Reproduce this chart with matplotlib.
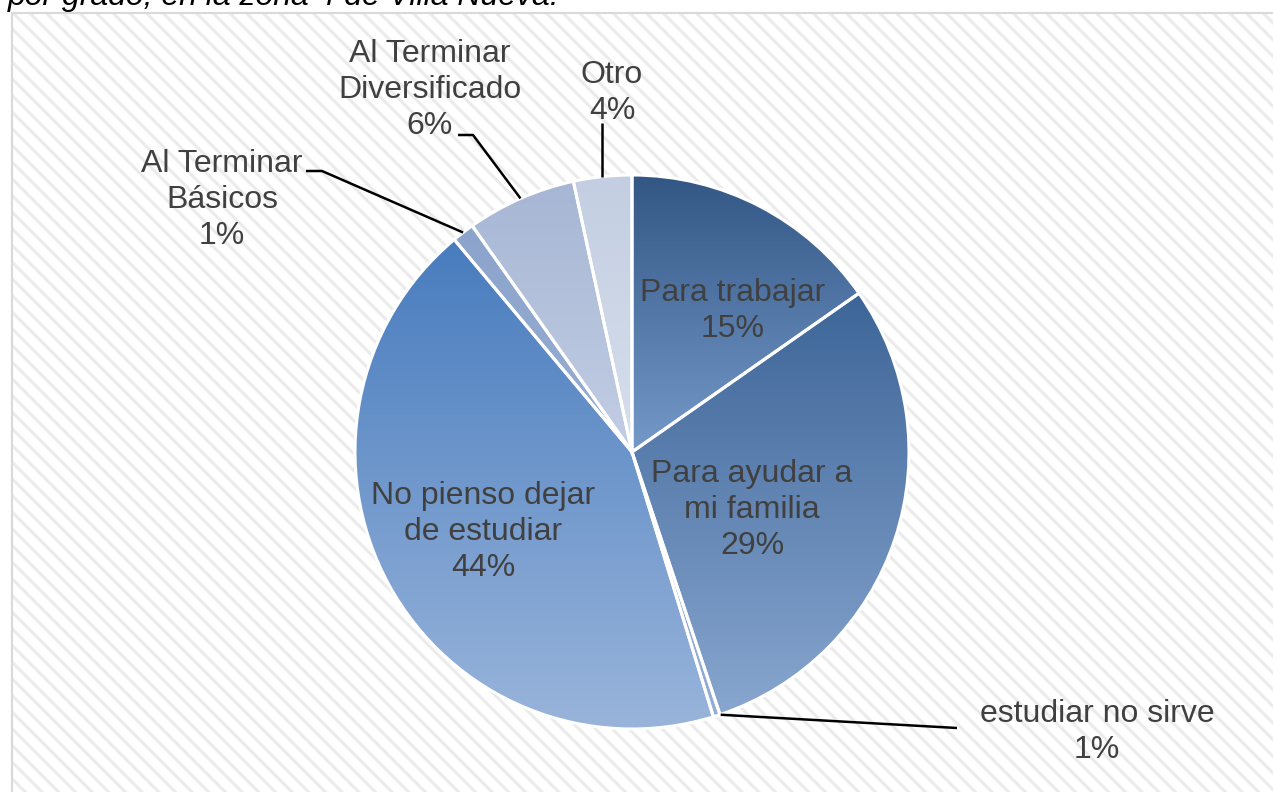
import numpy as np
import matplotlib
matplotlib.use("Agg")
import matplotlib.pyplot as plt
from matplotlib.patches import Rectangle
from matplotlib.colors import LinearSegmentedColormap

plt.rcParams['font.family'] = ['Liberation Sans', 'DejaVu Sans']
plt.rcParams['hatch.linewidth'] = 2.2

# ---- data ----
categories = ["Para trabajar", "Para ayudar a\nmi familia", "estudiar no sirve",
              "No pienso dejar\nde estudiar", "Al Terminar\nBásicos",
              "Al Terminar\nDiversificado", "Otro"]
values = [15.3, 29.6, 0.4, 43.7, 1.3, 6.4, 3.4]
pct_labels = ["15%", "29%", "1%", "44%", "1%", "6%", "4%"]
title_text = "por grado, en la zona 4 de Villa Nueva."

# gradient colours (top, bottom) per slice
grad_top = ["#325785", "#3D6598", "#7E9CC8", "#487CBE", "#8CA4CB", "#A6B6D4", "#C3CEE2"]
grad_bot = ["#759ACA", "#88A6CF", "#94AED6", "#9AB5DB", "#97AED3", "#C3CEE4", "#D7DFEC"]

W, H = 1273, 792
fig = plt.figure(figsize=(W / 100, H / 100), dpi=100)
ax = fig.add_axes([0, 0, 1, 1])

# background with diagonal stripes
bg = Rectangle((12, -20), W + 40, H - 13 + 20, facecolor="white", edgecolor="#EBEBEB",
               linewidth=0, hatch="\\\\", zorder=0)
ax.add_patch(bg)
border = Rectangle((12, -20), W + 40, H - 13 + 20, facecolor="none", edgecolor="#D9D9D9",
                   linewidth=1.5, zorder=0.5)
ax.add_patch(border)

cx, cy, R = 632, H - 452, 277
wedges, _ = ax.pie(values, startangle=90, counterclock=False, radius=R, center=(cx, cy),
                   wedgeprops=dict(edgecolor="white", linewidth=2.2), frame=True)

for i, w in enumerate(wedges):
    w.set_zorder(3)
    w.set_facecolor("none")
    verts = w.get_path().vertices
    x0, x1 = verts[:, 0].min(), verts[:, 0].max()
    y0, y1 = verts[:, 1].min(), verts[:, 1].max()
    cmap = LinearSegmentedColormap.from_list("g%d" % i, [grad_bot[i], grad_top[i]])
    grad = np.linspace(0, 1, 256).reshape(-1, 1)
    im = ax.imshow(grad, cmap=cmap, extent=(x0, x1, y0, y1), origin="lower",
                   aspect="auto", zorder=2, interpolation="bilinear")
    im.set_clip_path(w)

ax.set_xlim(0, W)
ax.set_ylim(0, H)
ax.set_aspect("auto")
ax.axis("off")

txt_color = "#404040"
fs = 23
# label positions (pixels from top-left)
label_pos = [(733, 311), (752, 510), (1097, 732), (483, 532), (222, 200), (430, 90), (612, 93)]
for i, (lx, ly) in enumerate(label_pos):
    ax.text(lx, H - ly, categories[i] + "\n" + pct_labels[i], ha="center", va="center",
            fontsize=fs, color=txt_color, linespacing=1.24, zorder=5)

# leader lines for outside labels
def edge_point(i):
    total = sum(values)
    start = 90 - 360 * sum(values[:i]) / total
    end = 90 - 360 * sum(values[:i + 1]) / total
    mid = np.deg2rad((start + end) / 2)
    return cx + R * np.cos(mid), cy + R * np.sin(mid)

lk = dict(color="black", linewidth=1.8, zorder=4, solid_capstyle="butt")
p = edge_point(2)
ax.plot([p[0] + 4, 957], [p[1] + 1, H - 728], **lk)
p = edge_point(4)
ax.plot([p[0], 322, 306], [p[1], H - 171, H - 171], **lk)
p = edge_point(5)
ax.plot([p[0], 473, 458], [p[1], H - 135, H - 135], **lk)
p = edge_point(6)
ax.plot([p[0], p[0]], [p[1], H - 123], **lk)

fig.text(8 / W, 1 - 5 / H, title_text, ha="left", va="baseline", fontsize=fs,
         style="italic", color="black")

fig.savefig("out.png", dpi=100)
